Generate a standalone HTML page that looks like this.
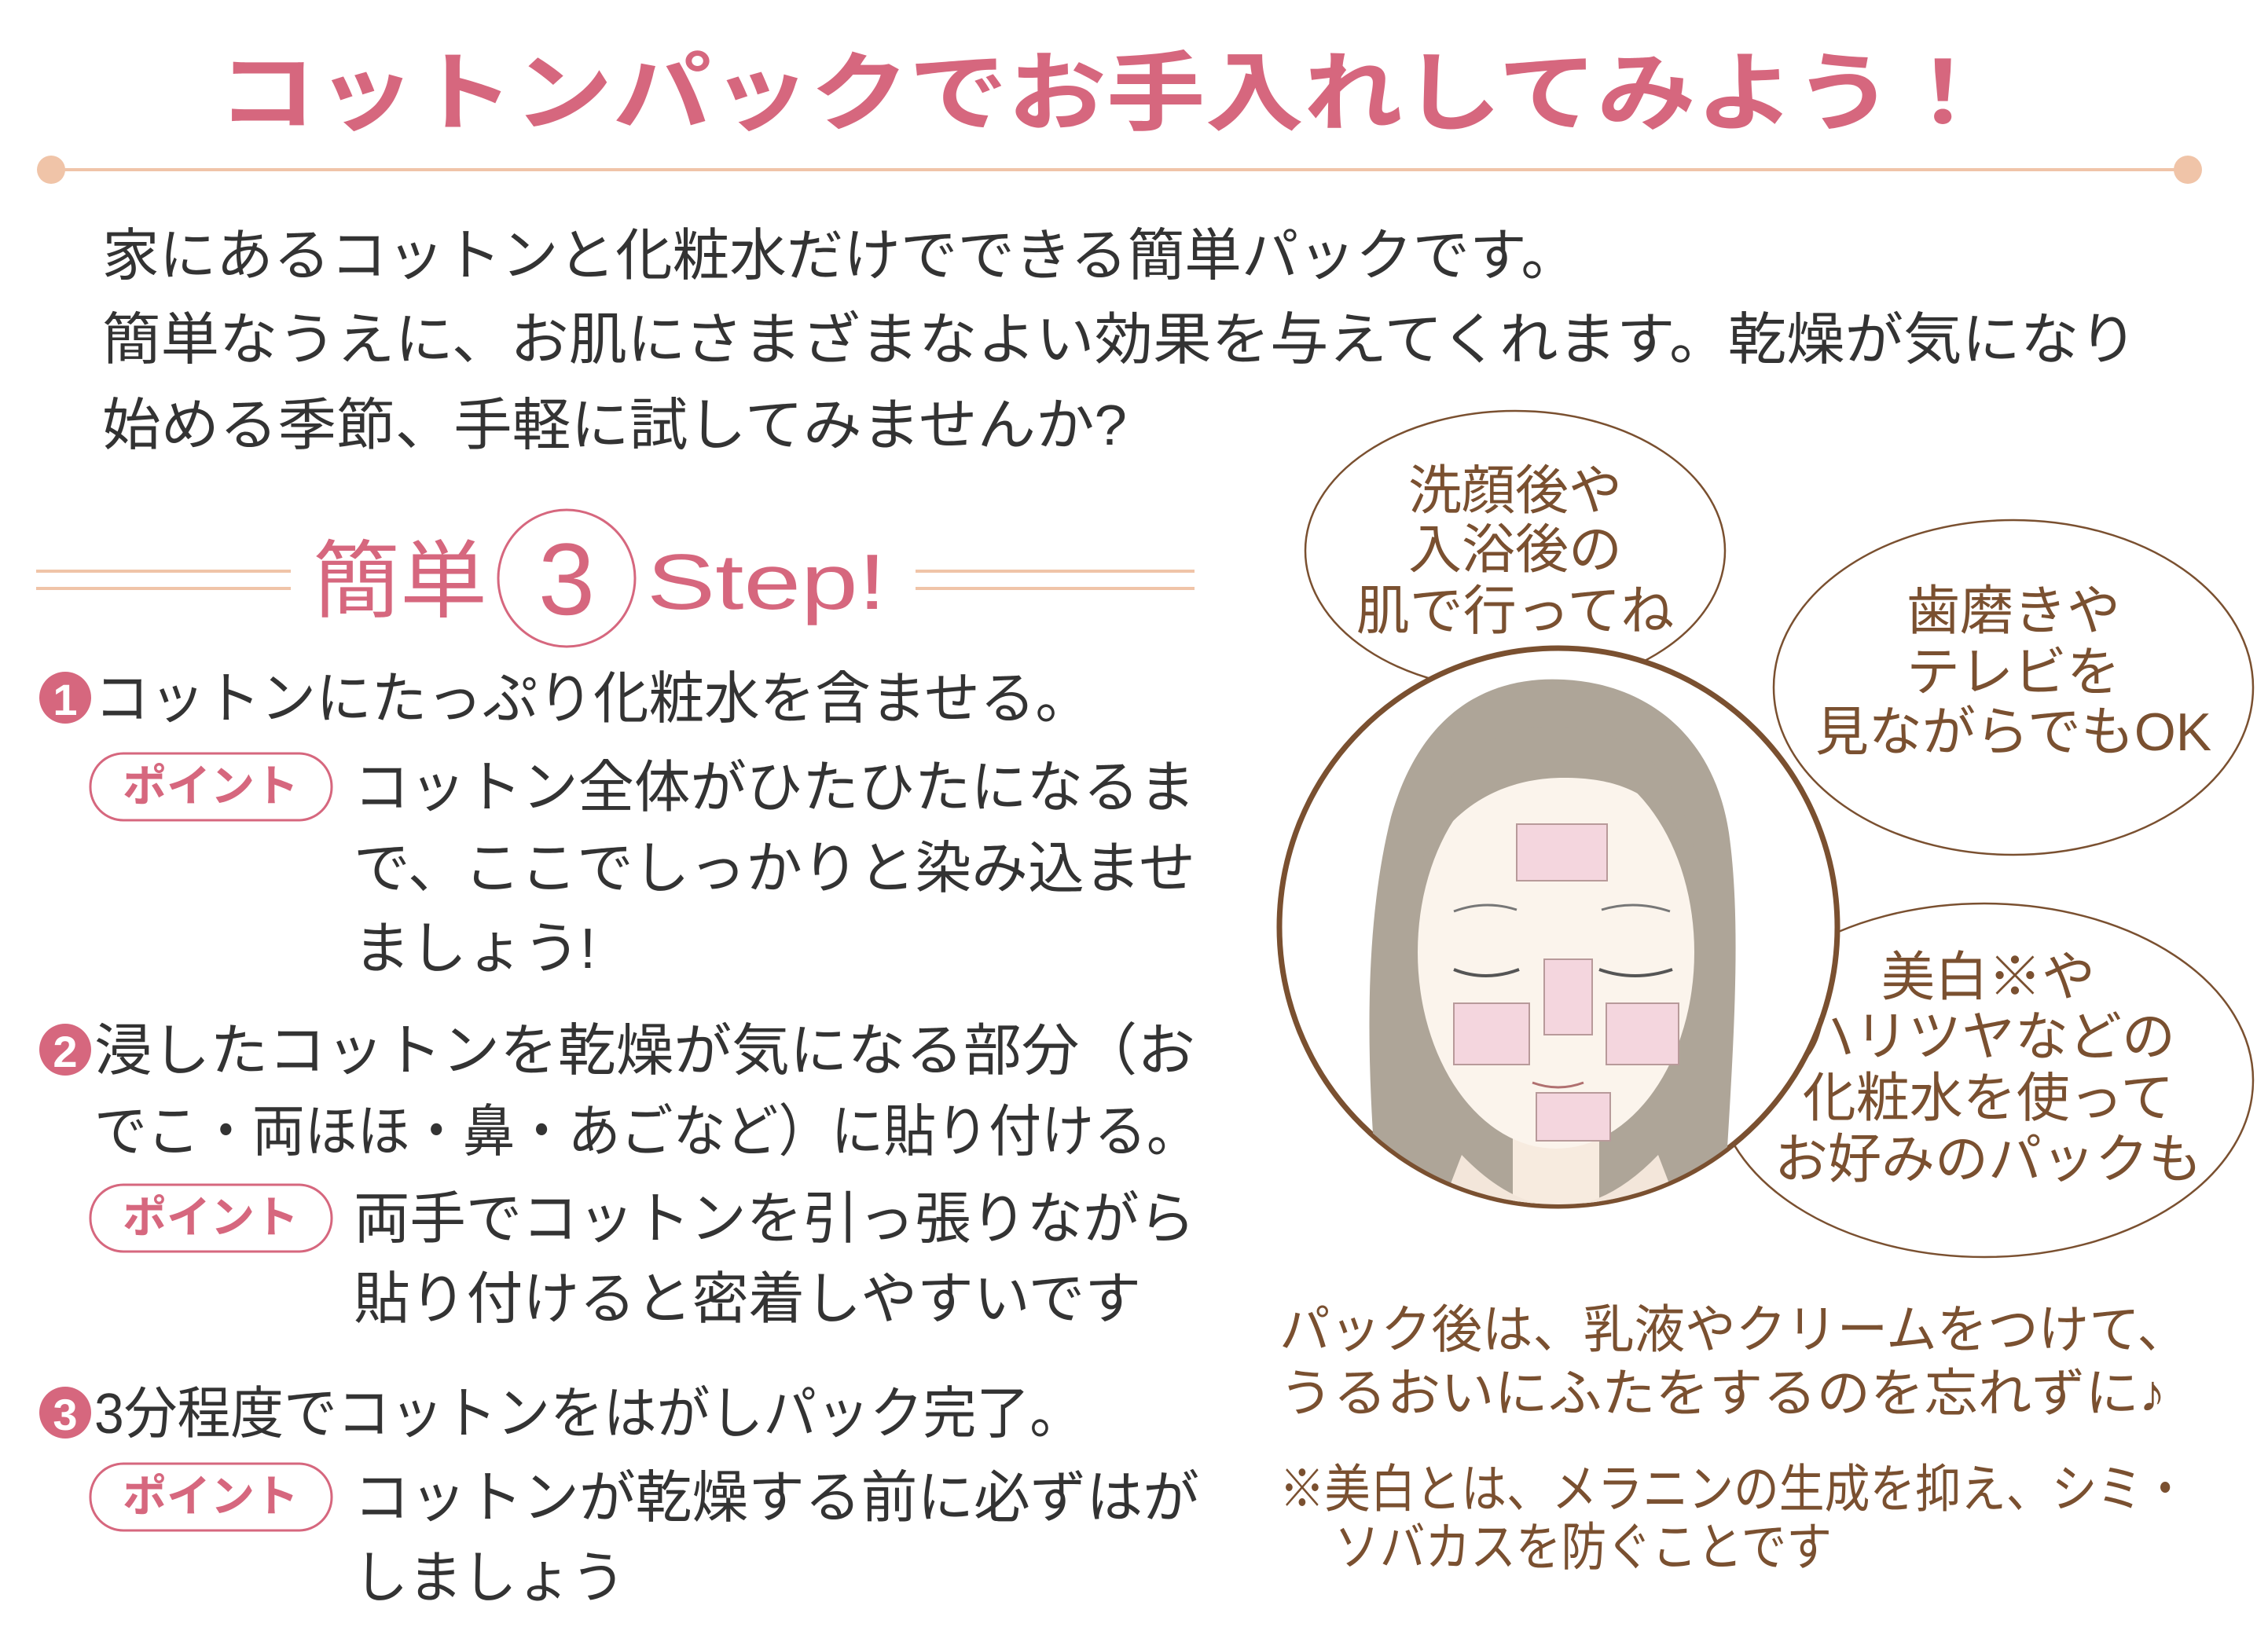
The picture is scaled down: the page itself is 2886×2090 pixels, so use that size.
<!DOCTYPE html>
<html><head><meta charset="utf-8"><style>
html,body{margin:0;padding:0;background:#fff;width:2886px;height:2090px;overflow:hidden}
svg{display:block}
text{font-family:"Liberation Sans","Noto Sans CJK JP",sans-serif}
.b{fill:#333}
.p{fill:#d6677e}
.br{fill:#7a5030}
</style></head><body>
<svg width="2886" height="2090" viewBox="0 0 2886 2090" xmlns="http://www.w3.org/2000/svg">
<defs><clipPath id="fc"><circle cx="1983" cy="1180" r="353"/></clipPath></defs>
<!-- title -->
<text x="277" y="157" font-size="110" font-weight="bold" class="p" textLength="2258" lengthAdjust="spacingAndGlyphs">コットンパックでお手入れしてみよう！</text>
<line x1="65" y1="216" x2="2784" y2="216" stroke="#f0c4a8" stroke-width="4"/>
<circle cx="65" cy="216" r="18" fill="#f0c4a8"/><circle cx="2784" cy="216" r="18" fill="#f0c4a8"/>
<!-- intro -->
<g font-size="72" class="b">
<text x="130" y="350" textLength="1878" lengthAdjust="spacingAndGlyphs">家にあるコットンと化粧水だけでできる簡単パックです。</text>
<text x="130" y="457" textLength="2590" lengthAdjust="spacingAndGlyphs">簡単なうえに、お肌にさまざまなよい効果を与えてくれます。乾燥が気になり</text>
<text x="130" y="566" textLength="1304" lengthAdjust="spacingAndGlyphs">始める季節、手軽に試してみませんか?</text>
</g>
<!-- heading -->
<g stroke="#f0c4a8" stroke-width="4">
<line x1="46" y1="727" x2="370" y2="727"/><line x1="46" y1="749" x2="370" y2="749"/>
<line x1="1165" y1="727" x2="1520" y2="727"/><line x1="1165" y1="749" x2="1520" y2="749"/>
</g>
<text x="398" y="777" font-size="108" class="p" textLength="222" lengthAdjust="spacingAndGlyphs">簡単</text>
<circle cx="721" cy="736" r="87" fill="none" stroke="#d6677e" stroke-width="3"/>
<text x="721" y="782" font-size="130" class="p" text-anchor="middle">3</text>
<text x="823" y="775" font-size="100" class="p" textLength="305" lengthAdjust="spacingAndGlyphs">Step!</text>
<!-- steps -->
<g font-size="72" class="b">
<circle cx="83" cy="888" r="33" fill="#d6677e"/><text x="83" y="910" font-size="56" font-weight="bold" fill="#fff" text-anchor="middle">1</text>
<text x="120" y="914" textLength="1268" lengthAdjust="spacingAndGlyphs">コットンにたっぷり化粧水を含ませる。</text>
<text x="450" y="1027" textLength="1071" lengthAdjust="spacingAndGlyphs">コットン全体がひたひたになるま</text>
<text x="450" y="1130" textLength="1071" lengthAdjust="spacingAndGlyphs">で、ここでしっかりと染み込ませ</text>
<text x="450" y="1232" textLength="308" lengthAdjust="spacingAndGlyphs">ましょう!</text>
<circle cx="83" cy="1336" r="33" fill="#d6677e"/><text x="83" y="1358" font-size="56" font-weight="bold" fill="#fff" text-anchor="middle">2</text>
<text x="120" y="1362" textLength="1401" lengthAdjust="spacingAndGlyphs">浸したコットンを乾燥が気になる部分（お</text>
<text x="120" y="1465" textLength="1406" lengthAdjust="spacingAndGlyphs">でこ・両ほほ・鼻・あごなど）に貼り付ける。</text>
<text x="450" y="1576" textLength="1071" lengthAdjust="spacingAndGlyphs">両手でコットンを引っ張りながら</text>
<text x="450" y="1678" textLength="1002" lengthAdjust="spacingAndGlyphs">貼り付けると密着しやすいです</text>
<circle cx="83" cy="1798" r="33" fill="#d6677e"/><text x="83" y="1820" font-size="56" font-weight="bold" fill="#fff" text-anchor="middle">3</text>
<text x="120" y="1824" textLength="1258" lengthAdjust="spacingAndGlyphs">3分程度でコットンをはがしパック完了。</text>
<text x="450" y="1931" textLength="1076" lengthAdjust="spacingAndGlyphs">コットンが乾燥する前に必ずはが</text>
<text x="450" y="2033" textLength="346" lengthAdjust="spacingAndGlyphs">しましょう</text>
</g>
<g>
<rect x="115" y="959" width="307" height="85" rx="42" fill="#fff" stroke="#d6677e" stroke-width="3"/>
<text x="268" y="1020" font-size="56" font-weight="bold" class="p" text-anchor="middle">ポイント</text>
<rect x="115" y="1508" width="307" height="85" rx="42" fill="#fff" stroke="#d6677e" stroke-width="3"/>
<text x="268" y="1569" font-size="56" font-weight="bold" class="p" text-anchor="middle">ポイント</text>
<rect x="115" y="1863" width="307" height="85" rx="42" fill="#fff" stroke="#d6677e" stroke-width="3"/>
<text x="268" y="1924" font-size="56" font-weight="bold" class="p" text-anchor="middle">ポイント</text>
</g>
<!-- bubbles -->
<g fill="#fff" stroke="#7a5030" stroke-width="2.5">
<ellipse cx="1928" cy="701" rx="267" ry="178"/>
<ellipse cx="2562" cy="875" rx="305" ry="213"/>
<ellipse cx="2525" cy="1375" rx="342" ry="225"/>
</g>
<!-- face circle -->
<circle cx="1983" cy="1180" r="355" fill="#fff" stroke="#7a5030" stroke-width="7"/>
<g clip-path="url(#fc)">
<path d="M1760 1600 C1740 1400 1730 1200 1770 1040 C1810 900 1900 860 1990 865 C2090 870 2180 930 2200 1060 C2220 1200 2200 1400 2190 1600 Z" fill="#aea598"/>
<rect x="1925" y="1380" width="110" height="200" fill="#f7ebdf"/>
<path d="M1860 1470 Q1985 1600 2110 1470 L2160 1600 L1810 1600 Z" fill="#f3e6da"/>
<ellipse cx="1980" cy="1212" rx="176" ry="250" fill="#fbf4ec"/>
<path d="M1810 1100 C1830 960 1900 920 1990 925 C2080 930 2140 980 2160 1100 C2120 1010 2060 990 1990 990 C1920 990 1850 1020 1810 1100 Z" fill="#aea598"/>
<path d="M1850 1234 Q1890 1250 1933 1234 M2035 1234 Q2080 1250 2128 1234" stroke="#555" stroke-width="4" fill="none"/>
<path d="M1850 1160 Q1890 1145 1930 1158 M2038 1158 Q2080 1145 2125 1160" stroke="#777" stroke-width="3" fill="none"/>
<path d="M1950 1378 Q1983 1390 2015 1378" stroke="#b07070" stroke-width="3" fill="none"/>
<g fill="#f4d6de" stroke="#b89a9a" stroke-width="2">
<rect x="1930" y="1049" width="115" height="72"/>
<rect x="1965" y="1221" width="61" height="96"/>
<rect x="1850" y="1277" width="96" height="78"/>
<rect x="2044" y="1277" width="92" height="78"/>
<rect x="1955" y="1391" width="94" height="61"/>
</g>
</g>
<!-- bubble text -->
<g font-size="68" class="br" text-anchor="middle">
<text x="1928" y="648">洗顔後や</text>
<text x="1928" y="723">入浴後の</text>
<text x="1928" y="801">肌で行ってね</text>
<text x="2562" y="801">歯磨きや</text>
<text x="2562" y="879">テレビを</text>
<text x="2562" y="955">見ながらでもOK</text>
<text x="2530" y="1267">美白※や</text>
<text x="2530" y="1343">ハリツヤなどの</text>
<text x="2530" y="1421">化粧水を使って</text>
<text x="2530" y="1499">お好みのパックも</text>
</g>
<g font-size="66" class="br">
<text x="1628" y="1715" textLength="1156" lengthAdjust="spacingAndGlyphs">パック後は、乳液やクリームをつけて、</text>
<text x="1628" y="1796" textLength="1128" lengthAdjust="spacingAndGlyphs">うるおいにふたをするのを忘れずに♪</text>
<text x="1628" y="1918" textLength="1156" lengthAdjust="spacingAndGlyphs">※美白とは、メラニンの生成を抑え、シミ・</text>
<text x="1698" y="1992" textLength="633" lengthAdjust="spacingAndGlyphs">ソバカスを防ぐことです</text>
</g>
</svg>
</body></html>
